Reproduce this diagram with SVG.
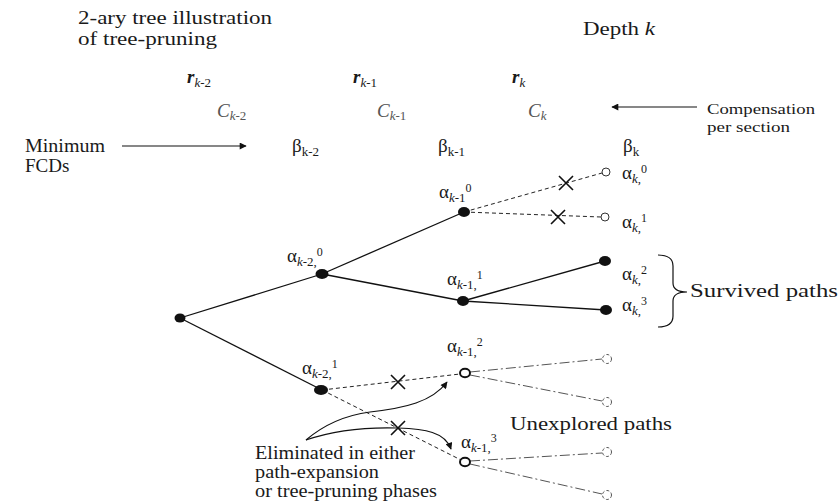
<svg xmlns="http://www.w3.org/2000/svg" width="840" height="502" viewBox="0 0 840 502" font-family="'Liberation Serif', 'DejaVu Serif', serif">
<style>
text{font-family:'Liberation Serif','DejaVu Serif',serif;fill:#1a1a1a;font-size:19px}
.sub{font-size:13px}
.sup{font-size:12px}
.it{font-style:italic}
.cc{fill:#555}
.solid{stroke:#111;stroke-width:1.3;fill:none}
.dash{stroke:#222;stroke-width:1;stroke-dasharray:4 3;fill:none}
.dd{stroke:#555;stroke-width:1;stroke-dasharray:10 3 2 3;fill:none}
.arr{stroke:#111;stroke-width:1.2;fill:none}
.fnode{fill:#111}
.hnode{fill:#fff;stroke:#111;stroke-width:2}
.leaf{fill:#fff;stroke:#333;stroke-width:1}
.uleaf{fill:#fff;stroke:#555;stroke-width:1;stroke-dasharray:3 2}
.x{stroke:#111;stroke-width:1.6}
</style>
<defs>
<marker id="ah" viewBox="0 0 10 10" refX="9" refY="5" markerWidth="9" markerHeight="7" markerUnits="userSpaceOnUse" orient="auto">
<path d="M0,0 L10,5 L0,10 z" fill="#111"/>
</marker>
</defs>

<g id="titles">
<text x="78" y="24" textLength="194" lengthAdjust="spacingAndGlyphs">2-ary tree illustration</text>
<text x="78" y="45" textLength="139" lengthAdjust="spacingAndGlyphs">of tree-pruning</text>
<text x="583" y="35" textLength="72" lengthAdjust="spacingAndGlyphs">Depth <tspan class="it">k</tspan></text>
</g>

<g id="r-labels">
<text x="187" y="83"><tspan font-weight="bold" font-style="italic">r</tspan><tspan class="sub it" dy="4">k</tspan><tspan class="sub">-2</tspan></text>
<text x="353" y="83"><tspan font-weight="bold" font-style="italic">r</tspan><tspan class="sub it" dy="4">k</tspan><tspan class="sub">-1</tspan></text>
<text x="512" y="83"><tspan font-weight="bold" font-style="italic">r</tspan><tspan class="sub it" dy="4">k</tspan></text>
</g>

<g id="c-labels">
<text class="cc" x="217" y="117"><tspan class="it">C</tspan><tspan class="sub it cc" dy="3">k</tspan><tspan class="sub cc">-2</tspan></text>
<text class="cc" x="377" y="117"><tspan class="it">C</tspan><tspan class="sub it cc" dy="3">k</tspan><tspan class="sub cc">-1</tspan></text>
<text class="cc" x="528" y="117"><tspan class="it">C</tspan><tspan class="sub it cc" dy="3">k</tspan></text>
</g>

<g id="beta-labels">
<text x="292" y="152">β<tspan class="sub" dy="4">k-2</tspan></text>
<text x="438" y="152">β<tspan class="sub" dy="4">k-1</tspan></text>
<text x="623" y="152">β<tspan class="sub" dy="4">k</tspan></text>
</g>

<g id="minimum-fcds">
<text x="25" y="152" textLength="80" lengthAdjust="spacingAndGlyphs">Minimum</text>
<text x="25" y="172">FCDs</text>
</g>

<g id="compensation">
<text x="707" y="114" font-size="15" style="font-size:15px" textLength="108" lengthAdjust="spacingAndGlyphs">Compensation</text>
<text x="707" y="132" font-size="15" style="font-size:15px" textLength="83" lengthAdjust="spacingAndGlyphs">per section</text>
</g>

<g id="connectors">
<line class="arr" x1="122" y1="146" x2="246" y2="146" marker-end="url(#ah)"/>
<line class="arr" x1="697" y1="107" x2="612" y2="107" marker-end="url(#ah)"/>
<line class="solid" x1="180" y1="318" x2="322" y2="274"/>
<line class="solid" x1="322" y1="274" x2="464" y2="212"/>
<line class="solid" x1="322" y1="274" x2="463" y2="301"/>
<line class="solid" x1="180" y1="318" x2="322" y2="390"/>
<line class="dash" x1="464" y1="212" x2="602" y2="173"/>
<line class="dash" x1="464" y1="212" x2="601" y2="217"/>
<line class="solid" x1="463" y1="301" x2="605" y2="261"/>
<line class="solid" x1="463" y1="301" x2="606" y2="310"/>
<line class="dash" x1="322" y1="390" x2="460" y2="374"/>
<line class="dash" x1="322" y1="390" x2="461" y2="460"/>
<line class="dd" x1="470" y1="372" x2="602" y2="359"/>
<line class="dd" x1="470" y1="375" x2="602" y2="401"/>
<line class="dd" x1="470" y1="461" x2="602" y2="453"/>
<line class="dd" x1="470" y1="464" x2="602" y2="494"/>
<path class="arr" d="M306,440 C320,428 340,416 370,412 C405,408 432,402 447,382" marker-end="url(#ah)"/>
<path class="arr" d="M306,440 C335,430 365,427 398,428 C425,429 445,432 451,449" marker-end="url(#ah)"/>
</g>

<g id="crosses">
<path class="x" d="M559,176 L573,190 M573,176 L559,190"/>
<path class="x" d="M551,210 L565,224 M565,210 L551,224"/>
<path class="x" d="M391,375 L405,389 M405,375 L391,389"/>
<path class="x" d="M391,421 L405,435 M405,421 L391,435"/>
</g>

<g id="node-root"><ellipse class="fnode" cx="180" cy="318" rx="5.5" ry="4.5"/></g>

<g id="node-a-k2-0">
<ellipse class="fnode" cx="322" cy="274" rx="6.5" ry="5"/>
<text x="287" y="262">α<tspan class="sub it" dy="4">k</tspan><tspan class="sub">-2,</tspan><tspan class="sup" dy="-10">0</tspan></text>
</g>

<g id="node-a-k2-1">
<ellipse class="fnode" cx="321" cy="390" rx="7" ry="5"/>
<text x="302" y="374">α<tspan class="sub it" dy="4">k</tspan><tspan class="sub">-2,</tspan><tspan class="sup" dy="-10">1</tspan></text>
</g>

<g id="node-a-k1-0">
<ellipse class="fnode" cx="464" cy="212" rx="6" ry="5"/>
<text x="439" y="198">α<tspan class="sub it" dy="4">k</tspan><tspan class="sub">-1</tspan><tspan class="sup" dy="-10">0</tspan></text>
</g>

<g id="node-a-k1-1">
<ellipse class="fnode" cx="463" cy="301" rx="6" ry="5"/>
<text x="447" y="285">α<tspan class="sub it" dy="4">k</tspan><tspan class="sub">-1,</tspan><tspan class="sup" dy="-10">1</tspan></text>
</g>

<g id="node-a-k1-2">
<ellipse class="hnode" cx="465" cy="373" rx="5" ry="4.2"/>
<text x="447" y="352">α<tspan class="sub it" dy="4">k</tspan><tspan class="sub">-1,</tspan><tspan class="sup" dy="-10">2</tspan></text>
</g>

<g id="node-a-k1-3">
<ellipse class="hnode" cx="465" cy="462" rx="5" ry="4.2"/>
<text x="461" y="448">α<tspan class="sub it" dy="4">k</tspan><tspan class="sub">-1,</tspan><tspan class="sup" dy="-10">3</tspan></text>
</g>

<g id="node-a-k-0">
<circle class="leaf" cx="606" cy="172" r="4"/>
<text x="622" y="179">α<tspan class="sub it" dy="4">k</tspan><tspan class="sub">,</tspan><tspan class="sup" dy="-10">0</tspan></text>
</g>

<g id="node-a-k-1">
<circle class="leaf" cx="605" cy="217" r="4"/>
<text x="622" y="228">α<tspan class="sub it" dy="4">k</tspan><tspan class="sub">,</tspan><tspan class="sup" dy="-10">1</tspan></text>
</g>

<g id="node-a-k-2">
<ellipse class="fnode" cx="605" cy="261" rx="6" ry="5"/>
<text x="622" y="280">α<tspan class="sub it" dy="4">k</tspan><tspan class="sub">,</tspan><tspan class="sup" dy="-10">2</tspan></text>
</g>

<g id="node-a-k-3">
<ellipse class="fnode" cx="606" cy="310" rx="6" ry="5"/>
<text x="622" y="311">α<tspan class="sub it" dy="4">k</tspan><tspan class="sub">,</tspan><tspan class="sup" dy="-10">3</tspan></text>
</g>

<g id="unexplored-leaves">
<circle class="uleaf" cx="607" cy="359" r="4.5"/>
<circle class="uleaf" cx="607" cy="402" r="4.5"/>
<circle class="uleaf" cx="607" cy="452" r="4.5"/>
<circle class="uleaf" cx="607" cy="495" r="4.5"/>
</g>

<g id="survived">
<path class="arr" d="M658,255 Q673,255 673,266 L673,283 Q673,292 687,292 Q673,292 673,301 L673,316 Q673,327 658,327"/>
<text x="690" y="297" textLength="148" lengthAdjust="spacingAndGlyphs">Survived paths</text>
</g>

<g id="unexplored-label">
<text x="510" y="430" textLength="162" lengthAdjust="spacingAndGlyphs">Unexplored paths</text>
</g>

<g id="eliminated-label">
<text x="255" y="459" style="font-size:18px" textLength="160" lengthAdjust="spacingAndGlyphs">Eliminated in either</text>
<text x="255" y="478" style="font-size:18px" textLength="124" lengthAdjust="spacingAndGlyphs">path-expansion</text>
<text x="255" y="497" style="font-size:18px" textLength="182" lengthAdjust="spacingAndGlyphs">or tree-pruning phases</text>
</g>
</svg>
